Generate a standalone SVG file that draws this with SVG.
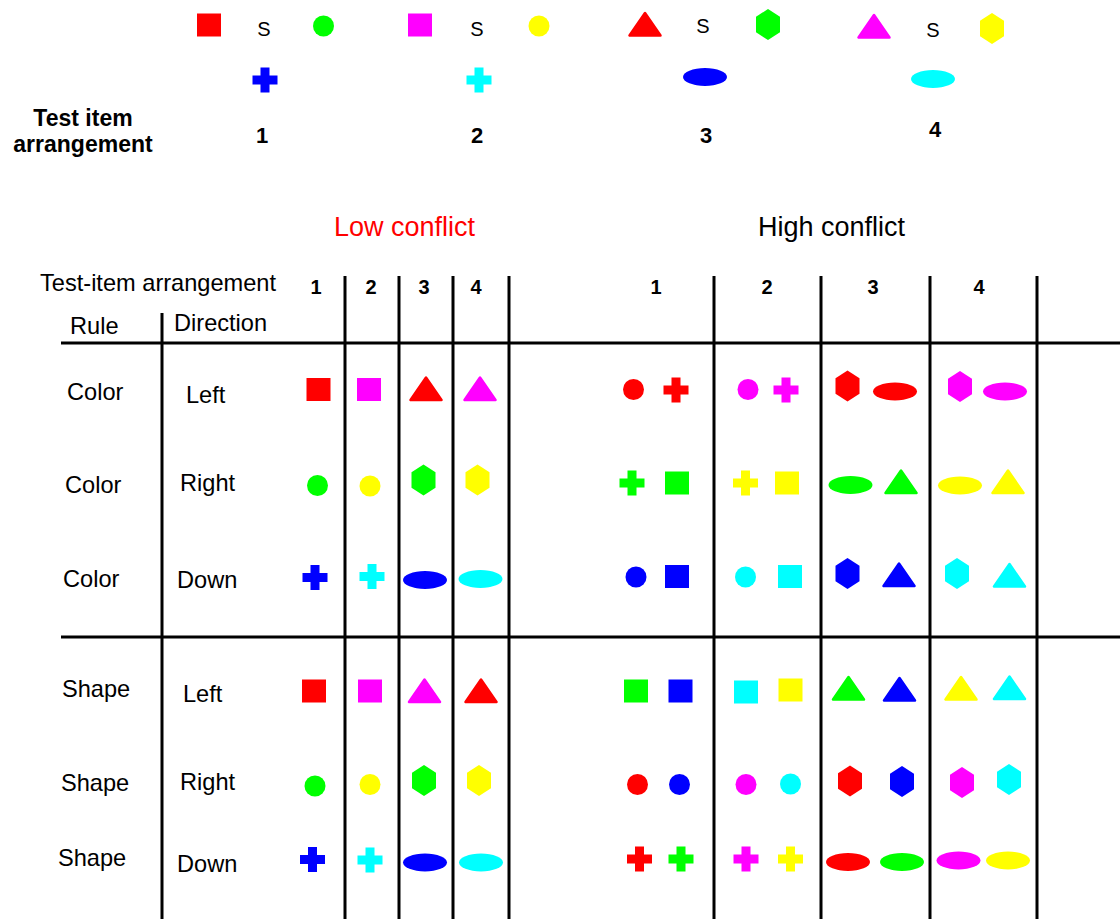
<svg xmlns="http://www.w3.org/2000/svg" xmlns:xlink="http://www.w3.org/1999/xlink" width="1120" height="919" viewBox="0 0 1120 919">
<style>
text{font-family:"Liberation Sans",Arial,Helvetica,sans-serif;fill:#000}
.lbl{font-size:23.6px}
.num{font-size:22px;font-weight:bold;text-anchor:middle}
.hnum{font-size:20px;font-weight:bold;text-anchor:middle}
.s{font-size:20px;text-anchor:middle}
.big{font-size:27px;text-anchor:middle}
.grid line{stroke:#000;stroke-width:3}
.R{color:#ff0000}.G{color:#00ff00}.B{color:#0000ff}.M{color:#ff00ff}.Y{color:#ffff00}.C{color:#00ffff}
</style>
<defs>
<rect id="sq" x="-12" y="-11.5" width="24" height="23" fill="currentColor"/>
<circle id="ci" r="10.5" fill="currentColor"/>
<polygon id="tri" points="0,-11 -15.5,11.5 15.5,11.5" fill="currentColor" stroke="currentColor" stroke-width="2.5" stroke-linejoin="round"/>
<polygon id="hex" points="0,-15.5 12,-7.75 12,7.75 0,15.5 -12,7.75 -12,-7.75" fill="currentColor"/>
<path id="cr" d="M-4.5,-12.5H4.5V-4.5H12.5V4.5H4.5V12.5H-4.5V4.5H-12.5V-4.5H-4.5Z" fill="currentColor"/>
<ellipse id="el" rx="22" ry="9" fill="currentColor"/>
</defs>
<rect width="1120" height="919" fill="#fff"/>

<g id="top-label">
<text class="num" x="83" y="126" style="font-size:23px">Test item</text>
<text class="num" x="83" y="152" style="font-size:23px">arrangement</text>
</g>
<g id="top-1">
<use href="#sq" class="R" x="209" y="25"/>
<text class="s" x="264" y="36">S</text>
<use href="#ci" class="G" x="323.5" y="26"/>
<use href="#cr" class="B" x="265" y="80"/>
<text class="num" x="262" y="143">1</text>
</g>
<g id="top-2">
<use href="#sq" class="M" x="420" y="25"/>
<text class="s" x="477" y="36">S</text>
<use href="#ci" class="Y" x="539" y="26"/>
<use href="#cr" class="C" x="479" y="80"/>
<text class="num" x="477" y="143">2</text>
</g>
<g id="top-3">
<use href="#tri" class="R" x="645" y="24"/>
<text class="s" x="703" y="33">S</text>
<use href="#hex" class="G" x="768" y="24.5"/>
<use href="#el" class="B" x="705" y="77"/>
<text class="num" x="706" y="143">3</text>
</g>
<g id="top-4">
<use href="#tri" class="M" x="874" y="26"/>
<text class="s" x="933" y="37">S</text>
<use href="#hex" class="Y" x="992" y="28.5"/>
<use href="#el" class="C" x="933" y="79"/>
<text class="num" x="935" y="137">4</text>
</g>

<g id="titles">
<text class="big" x="404.5" y="236" style="fill:#ff0000">Low conflict</text>
<text class="big" x="831.5" y="236">High conflict</text>
</g>

<g id="header">
<text class="lbl" x="40" y="291">Test-item arrangement</text>
<text class="lbl" x="70" y="334">Rule</text>
<text class="lbl" x="174" y="331">Direction</text>
<text class="hnum" x="316" y="294">1</text>
<text class="hnum" x="371" y="294">2</text>
<text class="hnum" x="424" y="294">3</text>
<text class="hnum" x="476" y="294">4</text>
<text class="hnum" x="656" y="294">1</text>
<text class="hnum" x="767" y="294">2</text>
<text class="hnum" x="873" y="294">3</text>
<text class="hnum" x="979" y="294">4</text>
</g>

<g id="row-color-left">
<text class="lbl" x="67" y="400">Color</text>
<text class="lbl" x="186" y="403">Left</text>
<use href="#sq" class="R" x="318.5" y="389.5"/>
<use href="#sq" class="M" x="369" y="389.5"/>
<use href="#tri" class="R" x="426" y="388.5"/>
<use href="#tri" class="M" x="480" y="388.5"/>
<use href="#ci" class="R" x="633.5" y="389.5"/>
<use href="#cr" class="R" x="676" y="390"/>
<use href="#ci" class="M" x="748" y="389.5"/>
<use href="#cr" class="M" x="786" y="390"/>
<use href="#hex" class="R" x="847.5" y="386"/>
<use href="#el" class="R" x="895" y="391.5"/>
<use href="#hex" class="M" x="960" y="386.5"/>
<use href="#el" class="M" x="1005" y="391.5"/>
</g>

<g id="row-color-right">
<text class="lbl" x="65" y="493">Color</text>
<text class="lbl" x="180" y="491">Right</text>
<use href="#ci" class="G" x="317.5" y="485.5"/>
<use href="#ci" class="Y" x="370" y="486"/>
<use href="#hex" class="G" x="423.5" y="480"/>
<use href="#hex" class="Y" x="477.5" y="480"/>
<use href="#cr" class="G" x="632" y="483"/>
<use href="#sq" class="G" x="677" y="483"/>
<use href="#cr" class="Y" x="745.5" y="483"/>
<use href="#sq" class="Y" x="787" y="483"/>
<use href="#el" class="G" x="850.5" y="485"/>
<use href="#tri" class="G" x="901" y="481.5"/>
<use href="#el" class="Y" x="960" y="485.5"/>
<use href="#tri" class="Y" x="1008" y="481.5"/>
</g>

<g id="row-color-down">
<text class="lbl" x="63" y="587">Color</text>
<text class="lbl" x="177" y="588">Down</text>
<use href="#cr" class="B" x="315" y="577.5"/>
<use href="#cr" class="C" x="372" y="576.5"/>
<use href="#el" class="B" x="425" y="580"/>
<use href="#el" class="C" x="480.5" y="579"/>
<use href="#ci" class="B" x="636" y="577"/>
<use href="#sq" class="B" x="677" y="576.5"/>
<use href="#ci" class="C" x="745.5" y="577"/>
<use href="#sq" class="C" x="790" y="576.5"/>
<use href="#hex" class="B" x="847.5" y="573.5"/>
<use href="#tri" class="B" x="899" y="574.5"/>
<use href="#hex" class="C" x="957" y="573.5"/>
<use href="#tri" class="C" x="1009.5" y="575"/>
</g>

<g id="row-shape-left">
<text class="lbl" x="62" y="697">Shape</text>
<text class="lbl" x="183" y="702">Left</text>
<use href="#sq" class="R" x="314" y="691"/>
<use href="#sq" class="M" x="370" y="691"/>
<use href="#tri" class="M" x="424.5" y="690.5"/>
<use href="#tri" class="R" x="481" y="690.5"/>
<use href="#sq" class="G" x="636" y="691"/>
<use href="#sq" class="B" x="680.5" y="691"/>
<use href="#sq" class="C" x="746" y="692"/>
<use href="#sq" class="Y" x="790.5" y="690"/>
<use href="#tri" class="G" x="848.5" y="688"/>
<use href="#tri" class="B" x="899.5" y="689"/>
<use href="#tri" class="Y" x="961" y="688"/>
<use href="#tri" class="C" x="1009.5" y="687.5"/>
</g>

<g id="row-shape-right">
<text class="lbl" x="61" y="791">Shape</text>
<text class="lbl" x="180" y="790">Right</text>
<use href="#ci" class="G" x="315" y="786"/>
<use href="#ci" class="Y" x="370" y="784.5"/>
<use href="#hex" class="G" x="424" y="780.5"/>
<use href="#hex" class="Y" x="479" y="780.5"/>
<use href="#ci" class="R" x="637.5" y="784.5"/>
<use href="#ci" class="B" x="679.5" y="784.5"/>
<use href="#ci" class="M" x="746" y="784.5"/>
<use href="#ci" class="C" x="790.5" y="784"/>
<use href="#hex" class="R" x="850" y="781"/>
<use href="#hex" class="B" x="902" y="781.5"/>
<use href="#hex" class="M" x="962" y="782.5"/>
<use href="#hex" class="C" x="1009" y="779.5"/>
</g>

<g id="row-shape-down">
<text class="lbl" x="58" y="866">Shape</text>
<text class="lbl" x="177" y="872">Down</text>
<use href="#cr" class="B" x="312.5" y="859.5"/>
<use href="#cr" class="C" x="370" y="860"/>
<use href="#el" class="B" x="425" y="862.5"/>
<use href="#el" class="C" x="481" y="862.5"/>
<use href="#cr" class="R" x="639.5" y="859"/>
<use href="#cr" class="G" x="681" y="859"/>
<use href="#cr" class="M" x="746" y="859"/>
<use href="#cr" class="Y" x="790.5" y="859"/>
<use href="#el" class="R" x="848" y="862"/>
<use href="#el" class="G" x="902" y="862"/>
<use href="#el" class="M" x="958.5" y="860.5"/>
<use href="#el" class="Y" x="1008" y="860.5"/>
</g>

<g id="grid" class="grid">
<line x1="61" y1="343" x2="1120" y2="343"/>
<line x1="61" y1="637" x2="1120" y2="637"/>
<line x1="162" y1="313" x2="162" y2="919"/>
<line x1="345" y1="276" x2="345" y2="919"/>
<line x1="399" y1="276" x2="399" y2="919"/>
<line x1="453" y1="276" x2="453" y2="919"/>
<line x1="509" y1="276" x2="509" y2="919"/>
<line x1="714" y1="276" x2="714" y2="919"/>
<line x1="821" y1="276" x2="821" y2="919"/>
<line x1="930" y1="276" x2="930" y2="919"/>
<line x1="1037" y1="276" x2="1037" y2="919"/>
</g>
</svg>
